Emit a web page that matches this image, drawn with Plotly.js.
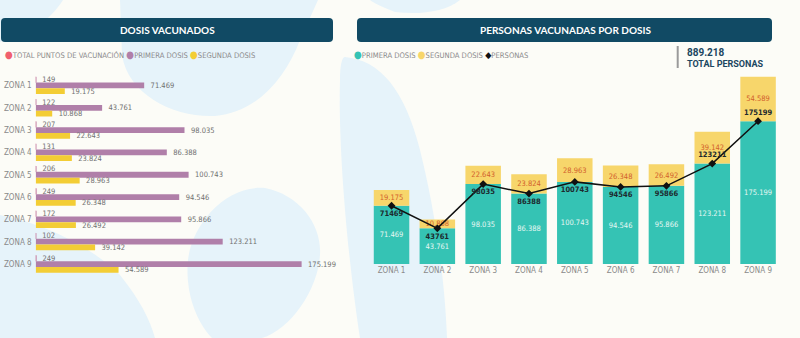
<!DOCTYPE html>
<html><head><meta charset="utf-8">
<script src="https://cdn.plot.ly/plotly-3.0.1.min.js"></script>
<style>html,body{margin:0;padding:0;background:#fcfcf7;}#c{width:800px;height:338px;}</style>
</head><body><div id="c"></div>
<script>
// ---- data ----
const zonas = ['ZONA 1','ZONA 2','ZONA 3','ZONA 4','ZONA 5','ZONA 6','ZONA 7','ZONA 8','ZONA 9'];
const puntosVacunacion = [149,122,207,131,206,249,172,102,249];
const primeraDosis = [71469,43761,98035,86388,100743,94546,95866,123211,175199];
const segundaDosis = [19175,10868,22643,23824,28963,26348,26492,39142,54589];
const personas = [71469,43761,98035,86388,100743,94546,95866,123211,175199];
const totalPersonas = personas.reduce((a,b)=>a+b,0);

// ---- helpers (pixel -> paper) ----
const W = 800, H = 338;
const PX = x => x / W, PY = y => 1 - y / H;
function pth(s){ return s.replace(/(-?\d+(?:\.\d+)?),(-?\d+(?:\.\d+)?)/g,(m,a,b)=>PX(+a).toFixed(5)+','+PY(+b).toFixed(5)); }
function rrect(x0,y0,x1,y1,r){
  return pth(`M ${x0+r},${y0} L ${x1-r},${y0} Q ${x1},${y0} ${x1},${y0+r} L ${x1},${y1-r} Q ${x1},${y1} ${x1-r},${y1} L ${x0+r},${y1} Q ${x0},${y1} ${x0},${y1-r} L ${x0},${y0+r} Q ${x0},${y0} ${x0+r},${y0} Z`);
}
const fmtDot = n => String(n).replace(/\B(?=(\d{3})+(?!\d))/g,'.');
const GAP = '\u00a0\u00a0\u00a0';

const fontN = 'Liberation Sans Narrow, Arial Narrow, DejaVu Sans Condensed, Roboto, sans-serif';
const C = {red:'#f0606e', purple:'#b07fa9', yellowL:'#f3cd35', teal:'#35c3b4', yellowR:'#f7d66b', header:'#114a64'};
const lblFont = {size:7.5, color:'#707070', family:fontN};

const traces = [
  {type:'bar', orientation:'h', y:zonas, x:puntosVacunacion, xaxis:'x', yaxis:'y',
   marker:{color:C.red, line:{color:'#c685a8', width:1}},
   texttemplate:GAP+'%{x}', textposition:'outside', cliponaxis:false, constraintext:'none', textangle:0,
   textfont:lblFont, hoverinfo:'skip'},
  {type:'bar', orientation:'h', y:zonas, x:primeraDosis, xaxis:'x', yaxis:'y',
   marker:{color:C.purple},
   texttemplate:GAP+'%{x:,d}', textposition:'outside', cliponaxis:false, constraintext:'none', textangle:0,
   textfont:lblFont, hoverinfo:'skip'},
  {type:'bar', orientation:'h', y:zonas, x:segundaDosis, xaxis:'x', yaxis:'y',
   marker:{color:C.yellowL},
   texttemplate:GAP+'%{x:,d}', textposition:'outside', cliponaxis:false, constraintext:'none', textangle:0,
   textfont:lblFont, hoverinfo:'skip'},

  {type:'bar', x:zonas, y:primeraDosis, xaxis:'x2', yaxis:'y2', offsetgroup:'r',
   marker:{color:C.teal},
   texttemplate:'%{y:,d}', textposition:'inside', insidetextanchor:'middle', textangle:0, constraintext:'none',
   insidetextfont:{size:7.5, color:'#e6f7f3', family:fontN}, hoverinfo:'skip'},
  {type:'bar', x:zonas, y:segundaDosis, base:primeraDosis, xaxis:'x2', yaxis:'y2', offsetgroup:'r',
   marker:{color:C.yellowR},
   texttemplate:'%{y:,d}', textposition:'inside', insidetextanchor:'middle', textangle:0, constraintext:'none',
   insidetextfont:{size:7.5, color:'#d2602c', family:fontN}, hoverinfo:'skip'},
  {type:'scatter', mode:'lines+markers+text', x:zonas, y:personas, xaxis:'x2', yaxis:'y2',
   line:{color:'#111', width:1.5}, marker:{symbol:'diamond', size:6, color:'#111'},
   texttemplate:'%{y:d}',
   textposition:['bottom center','bottom center','bottom center','bottom center','bottom center','bottom center','bottom center','top center','top center'],
   textfont:{size:7.5, color:'#1d2a2e', family:fontN, weight:'bold'}, cliponaxis:false, hoverinfo:'skip'}
];

const blobs = [
  'M 120,0 L 122,55 C 128,95 175,118 215,116 C 255,113 285,80 300,40 L 318,0 Z',
  'M 0,0 L 63,0 C 50,20 30,35 0,42 Z',
  'M 0,215 C 50,225 95,250 120,275 C 140,300 150,320 155,338 L 0,338 Z',
  'M 265,188 C 300,195 322,225 320,255 C 318,290 290,330 262,338 L 212,338 C 195,320 185,290 188,260 C 192,225 225,185 265,188 Z',
  'M 345,57 C 380,60 405,90 420,150 C 435,210 445,280 447,338 L 360,338 C 348,260 338,150 340,80 C 340,65 342,57 345,57 Z',
  'M 370,0 L 460,0 C 445,12 420,15 395,12 C 385,8 375,4 370,0 Z'
];
const shapes = blobs.map(p => ({type:'path', xref:'paper', yref:'paper', layer:'below', path:pth(p), fillcolor:'#e6f3fa', line:{width:0}}));
shapes.push({type:'path', xref:'paper', yref:'paper', layer:'below', path:rrect(1,18,333,42,4), fillcolor:C.header, line:{width:0}});
shapes.push({type:'path', xref:'paper', yref:'paper', layer:'below', path:rrect(357,18,772,42,4), fillcolor:C.header, line:{width:0}});
shapes.push({type:'line', xref:'paper', yref:'paper', x0:PX(677.7), x1:PX(677.7), y0:PY(46), y1:PY(68), line:{color:'#9a9a9a', width:2}});

const dot = (c) => `<span style="color:${c};font-size:10px">●</span>`;
const annotations = [
  {text:'<b>DOSIS VACUNADOS</b>', x:PX(167), y:PY(30), font:{size:10, color:'#ffffff', family:'Lato, Open Sans, sans-serif'}},
  {text:'<b>PERSONAS VACUNADAS POR DOSIS</b>', x:PX(565), y:PY(30), font:{size:10, color:'#ffffff', family:'Lato, Open Sans, sans-serif'}},
  {text:`${dot(C.red)}TOTAL PUNTOS DE VACUNACIÓN ${dot(C.purple)}PRIMERA DOSIS ${dot(C.yellowL)}SEGUNDA DOSIS`, x:PX(3), y:PY(54.5), xanchor:'left', font:{size:7.6, color:'#8a8a8a', family:fontN}},
  {text:`${dot(C.teal)}PRIMERA DOSIS ${dot(C.yellowR)}SEGUNDA DOSIS <span style="color:#111;font-size:9px">◆</span>PERSONAS`, x:PX(352), y:PY(54.5), xanchor:'left', font:{size:7.6, color:'#8a8a8a', family:fontN}},
  {text:'<b>'+fmtDot(totalPersonas)+'</b>', x:PX(685), y:PY(52), xanchor:'left', font:{size:10, color:'#1b4660', family:'Roboto, sans-serif'}},
  {text:'<b>TOTAL PERSONAS</b>', x:PX(685), y:PY(63.5), xanchor:'left', font:{size:9, color:'#1b4660', family:'Roboto, sans-serif'}}
].map(a => Object.assign({xref:'paper', yref:'paper', showarrow:false, yanchor:'middle', xanchor:'center'}, a));

const layout = {
  width:W, height:H, margin:{l:0,r:0,t:0,b:0,pad:0},
  paper_bgcolor:'#fcfcf7', plot_bgcolor:'rgba(0,0,0,0)',
  separators:',.', barmode:'group', bargap:0.225, bargroupgap:0, showlegend:false,
  font:{family:fontN},
  xaxis:{domain:[35.7/W, 330/W], range:[0,193900], visible:false, fixedrange:true, anchor:'y'},
  yaxis:{domain:[PY(275.2), PY(74.3)], type:'category', range:[8.5,-0.5], anchor:'x', automargin:false,
         showgrid:false, zeroline:false, showline:false, ticks:'', ticklabelstandoff:3,
         tickfont:{size:8, color:'#8a8a8a', family:fontN}, fixedrange:true},
  xaxis2:{domain:[367/W, 782.6/W], type:'category', anchor:'y2', automargin:false,
          showgrid:false, zeroline:false, showline:false, ticks:'',
          tickfont:{size:8, color:'#8a8a8a', family:fontN}, fixedrange:true},
  yaxis2:{domain:[PY(264), PY(70)], range:[0,238000], visible:false, anchor:'x2', fixedrange:true},
  shapes, annotations
};
Plotly.newPlot('c', traces, layout, {staticPlot:true, displayModeBar:false});
</script></body></html>
